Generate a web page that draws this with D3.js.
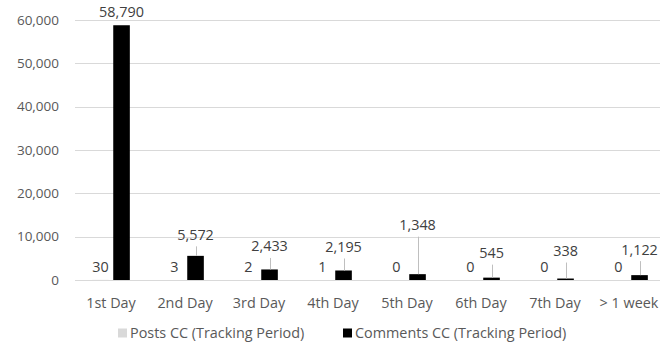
<!DOCTYPE html>
<html>
<head>
<meta charset="utf-8">
<script src="https://cdn.jsdelivr.net/npm/d3@7"></script>
<style>
  body { margin: 0; background: #fff; }
  text { font-family: "Open Sans", sans-serif; }
</style>
</head>
<body>
<svg id="chart"></svg>
<script>
const categories = ["1st Day", "2nd Day", "3rd Day", "4th Day", "5th Day", "6th Day", "7th Day", "> 1 week"];
const postsCC = [30, 3, 2, 1, 0, 0, 0, 0];
const commentsCC = [58790, 5572, 2433, 2195, 1348, 545, 338, 1122];
const seriesNames = ["Posts CC (Tracking Period)", "Comments CC (Tracking Period)"];
const yTicks = [0, 10000, 20000, 30000, 40000, 50000, 60000];
// how far (px) each comment label was dragged up from its default spot
const commentLift = [0, 8, 10, 10.5, 36, 11.5, 14.5, 12.5];

const width = 660;
const height = 344;
const margin = { top: 20, right: -6, bottom: 64, left: 74 };

const svg = d3.select("#chart").attr("width", width).attr("height", height);

const x = d3.scaleBand()
  .domain(categories)
  .range([margin.left, width - margin.right]);

const barW = x.bandwidth() / 4.46;
const x1 = d3.scaleOrdinal()
  .domain(seriesNames)
  .range([-barW * 1.135, barW * 0.135]);

const y = d3.scaleLinear()
  .domain([0, 60000])
  .range([height - margin.bottom, margin.top]);

const fmt = d3.format(",");
const colors = ["#d9d9d9", "#000000"];

// gridlines
svg.append("g")
  .selectAll("line")
  .data(yTicks)
  .join("line")
  .attr("x1", margin.left + 1)
  .attr("x2", width)
  .attr("y1", (d) => Math.round(y(d)) + 0.5)
  .attr("y2", (d) => Math.round(y(d)) + 0.5)
  .attr("stroke", "#d9d9d9")
  .attr("stroke-width", 1);

// y axis labels
svg.append("g")
  .selectAll("text")
  .data(yTicks)
  .join("text")
  .attr("x", 59)
  .attr("y", (d) => y(d))
  .attr("dy", "0.35em")
  .attr("text-anchor", "end")
  .attr("font-size", 13.5)
  .attr("fill", "#595959")
  .text((d) => fmt(d));

// category labels
svg.append("g")
  .selectAll("text")
  .data(categories)
  .join("text")
  .attr("x", (d) => x(d) + x.bandwidth() / 2)
  .attr("y", 303)
  .attr("dy", "0.35em")
  .attr("text-anchor", "middle")
  .attr("font-size", 14.4)
  .attr("fill", "#595959")
  .text((d) => d);

const rows = categories.map((c, i) => ({ cat: c, posts: postsCC[i], comments: commentsCC[i], lift: commentLift[i] }));

const cx = (d, s) => x(d.cat) + x.bandwidth() / 2 + x1(s);

// bars
svg.append("g")
  .selectAll("rect.posts")
  .data(rows)
  .join("rect")
  .attr("class", "posts")
  .attr("x", (d) => cx(d, seriesNames[0]))
  .attr("width", barW)
  .attr("y", (d) => y(d.posts))
  .attr("height", (d) => y(0) - y(d.posts))
  .attr("fill", colors[0]);

svg.append("g")
  .selectAll("rect.comments")
  .data(rows)
  .join("rect")
  .attr("class", "comments")
  .attr("x", (d) => cx(d, seriesNames[1]))
  .attr("width", barW)
  .attr("y", (d) => y(d.comments))
  .attr("height", (d) => y(0) - y(d.comments))
  .attr("fill", colors[1]);

// leader lines for moved labels
svg.append("g")
  .selectAll("line")
  .data(rows.filter((d) => d.lift > 0))
  .join("line")
  .attr("x1", (d) => Math.round(cx(d, seriesNames[1]) + barW / 2) + 0.5)
  .attr("x2", (d) => Math.round(cx(d, seriesNames[1]) + barW / 2) + 0.5)
  .attr("y1", (d) => y(d.comments) - 13 - d.lift + 11.5)
  .attr("y2", (d) => y(d.comments))
  .attr("stroke", "#bfbfbf")
  .attr("stroke-width", 1);

// value labels
svg.append("g")
  .selectAll("text.pl")
  .data(rows)
  .join("text")
  .attr("class", "pl")
  .attr("x", (d) => cx(d, seriesNames[0]) + barW / 2)
  .attr("y", (d) => y(d.posts) - 13)
  .attr("dy", "0.35em")
  .attr("text-anchor", "middle")
  .attr("font-size", 14.4)
  .attr("fill", "#404040")
  .text((d) => fmt(d.posts));

svg.append("g")
  .selectAll("text.cl")
  .data(rows)
  .join("text")
  .attr("class", "cl")
  .attr("x", (d) => cx(d, seriesNames[1]) + barW / 2)
  .attr("y", (d) => y(d.comments) - 13 - d.lift)
  .attr("dy", "0.35em")
  .attr("text-anchor", "middle")
  .attr("font-size", 14.4)
  .attr("fill", "#404040")
  .text((d) => fmt(d.comments));

// legend
const legendX = [118, 343];
const legend = svg.append("g")
  .selectAll("g")
  .data(seriesNames)
  .join("g")
  .attr("transform", (d, i) => `translate(${legendX[i]}, 333)`);

legend.append("rect")
  .attr("x", 0)
  .attr("y", -4.5)
  .attr("width", 9)
  .attr("height", 9)
  .attr("fill", (d, i) => colors[i]);

legend.append("text")
  .attr("x", 12)
  .attr("y", 0)
  .attr("dy", "0.35em")
  .attr("font-size", 14.4)
  .attr("fill", "#595959")
  .text((d) => d);
</script>
</body>
</html>
